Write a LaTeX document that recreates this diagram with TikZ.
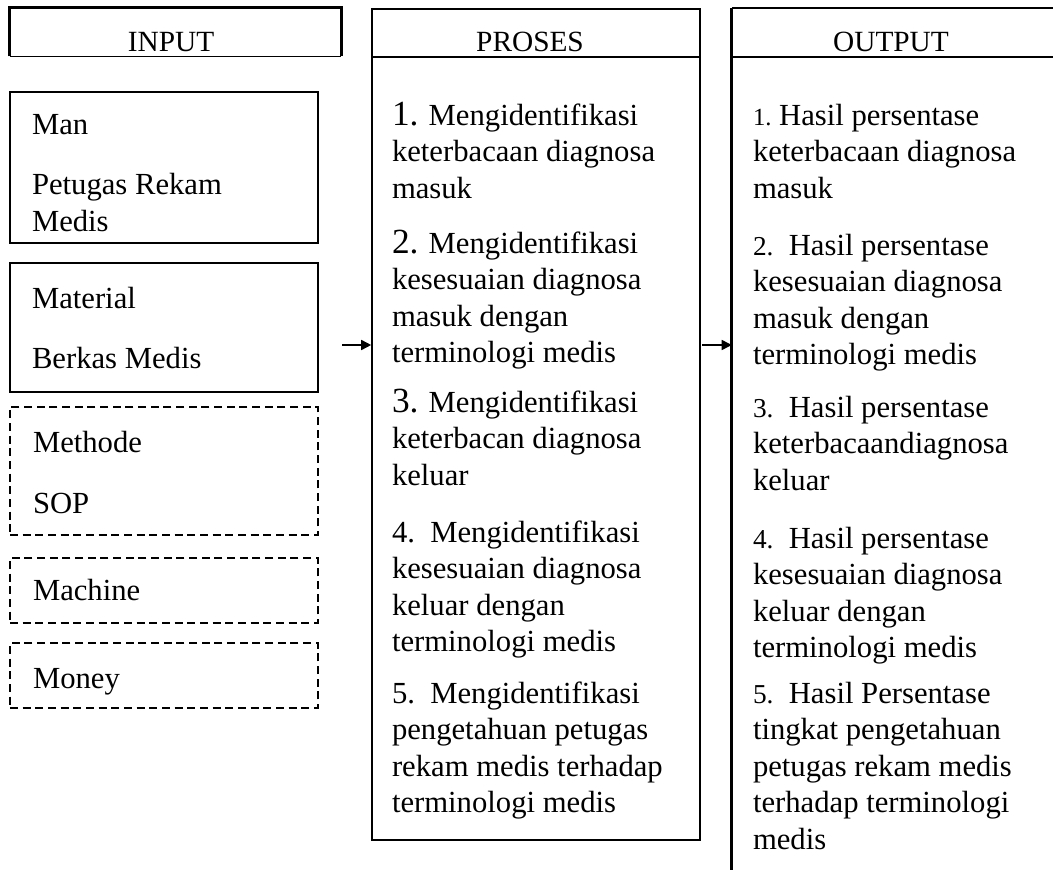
\documentclass[tikz,border=0pt]{standalone}
\usepackage{fontspec}
\setmainfont{Liberation Serif}
\usetikzlibrary{arrows.meta,fit}
\newcommand{\pnumA}[1]{{\fontsize{26.5}{27.4}\selectfont #1}}
\newcommand{\onumA}[1]{{\fontsize{20.5}{27.4}\selectfont #1}}
\newcommand{\onumB}[1]{{\fontsize{18.5}{27.4}\selectfont #1}}
\begin{document}
\begin{tikzpicture}[x=0.75pt,y=-0.75pt,
  basefont/.style={font=\fontsize{23}{27.4}\selectfont},
  txt/.style={basefont,anchor=north west,inner sep=0pt,outer sep=0pt,align=left,yshift=19.18pt},
  head/.style={font=\fontsize{22}{27.4}\selectfont,anchor=base,inner sep=0pt},
  solidbox/.style={draw,line width=1.5pt,inner sep=0pt},
  dashbox/.style={draw,line width=1.5pt,inner sep=0pt,dash pattern=on 6pt off 3.5pt},
  area/.style={inner sep=0pt},
  conn/.style={line width=1.2pt,-{Triangle[length=7.5pt,width=7.5pt]}}]

\useasboundingbox (0,0) rectangle (1053,870);

% ---------- INPUT ----------
\node[area,fit={(10,8) (341,56)}] (inhead) {};
\draw[line width=2.2pt] (inhead.south west) -- (inhead.north west) -- (inhead.north east) -- (inhead.south east);
\draw[line width=1pt] (inhead.south west) -- (inhead.south east);
\node[head] (intitle) at (171,52) {INPUT};

\node[solidbox,fit={(10,92) (318,243)}] (manbox) {};
\node[txt] (man) at (32,135) {\strut Man};
\node[txt] (petugas) at (32,195) {\strut Petugas Rekam\\Medis};

\node[solidbox,fit={(10,263) (318,392)}] (matbox) {};
\node[txt] (material) at (32,308) {\strut Material};
\node[txt] (berkas) at (32,368) {\strut Berkas Medis};

\node[dashbox,fit={(10,407) (318,535)}] (metbox) {};
\node[txt] (methode) at (33,452) {\strut Methode};
\node[txt] (sop) at (33,513) {\strut SOP};

\node[dashbox,fit={(10,558) (318,623)}] (machbox) {};
\node[txt] (machine) at (33,600) {\strut Machine};

\node[dashbox,fit={(10,643) (318,708)}] (monbox) {};
\node[txt] (money) at (33,688) {\strut Money};

% ---------- PROSES ----------
\node[draw,line width=1.2pt,inner sep=0pt,fit={(372,9) (700,840)}] (proses) {};
\draw[line width=2.2pt] (372,9) rectangle (700,57);
\node[head] (prtitle) at (530,52) {PROSES};

\node[txt] (p1) at (392,125) {\strut\pnumA{1.} Mengidentifikasi\\keterbacaan diagnosa\\masuk};
\node[txt] (p2) at (392,253) {\strut\pnumA{2.} Mengidentifikasi\\kesesuaian diagnosa\\masuk dengan\\terminologi medis};
\node[txt] (p3) at (392,412) {\strut\pnumA{3.} Mengidentifikasi\\keterbacan diagnosa\\keluar};
\node[txt] (p4) at (392,542) {\strut 4.\ \ Mengidentifikasi\\kesesuaian diagnosa\\keluar dengan\\terminologi medis};
\node[txt] (p5) at (392,703) {\strut 5.\ \ Mengidentifikasi\\pengetahuan petugas\\rekam medis terhadap\\terminologi medis};

% ---------- OUTPUT ----------
\node[area,fit={(732,8) (1053,870)}] (output) {};
\draw[line width=1.5pt] (output.north east) -- (output.north west);
\draw[line width=2pt] (output.north west) -- (output.south west);
\draw[line width=1.5pt] (732,57) -- (1053,57);
\node[head] (outtitle) at (891,52) {OUTPUT};

\node[txt] (o1) at (753,125) {\strut\onumB{1.}\ Hasil persentase\\keterbacaan diagnosa\\masuk};
\node[txt] (o2) at (753,255) {\strut\onumA{2.}\ \ Hasil persentase\\kesesuaian diagnosa\\masuk dengan\\terminologi medis};
\node[txt] (o3) at (753,417) {\strut\onumA{3.}\ \ Hasil persentase\\keterbacaandiagnosa\\keluar};
\node[txt] (o4) at (753,548) {\strut\onumA{4.}\ \ Hasil persentase\\kesesuaian diagnosa\\keluar dengan\\terminologi medis};
\node[txt] (o5) at (753,703) {\strut\onumA{5.}\ \ Hasil Persentase\\tingkat pengetahuan\\petugas rekam medis\\terhadap terminologi\\medis};

% ---------- connectors ----------
\coordinate (a1) at (342,345);
\draw[conn] (a1) -- (a1 -| proses.west);
\coordinate (a2) at (702,345);
\draw[conn] (a2) -- (a2 -| output.west);
\end{tikzpicture}
\end{document}
